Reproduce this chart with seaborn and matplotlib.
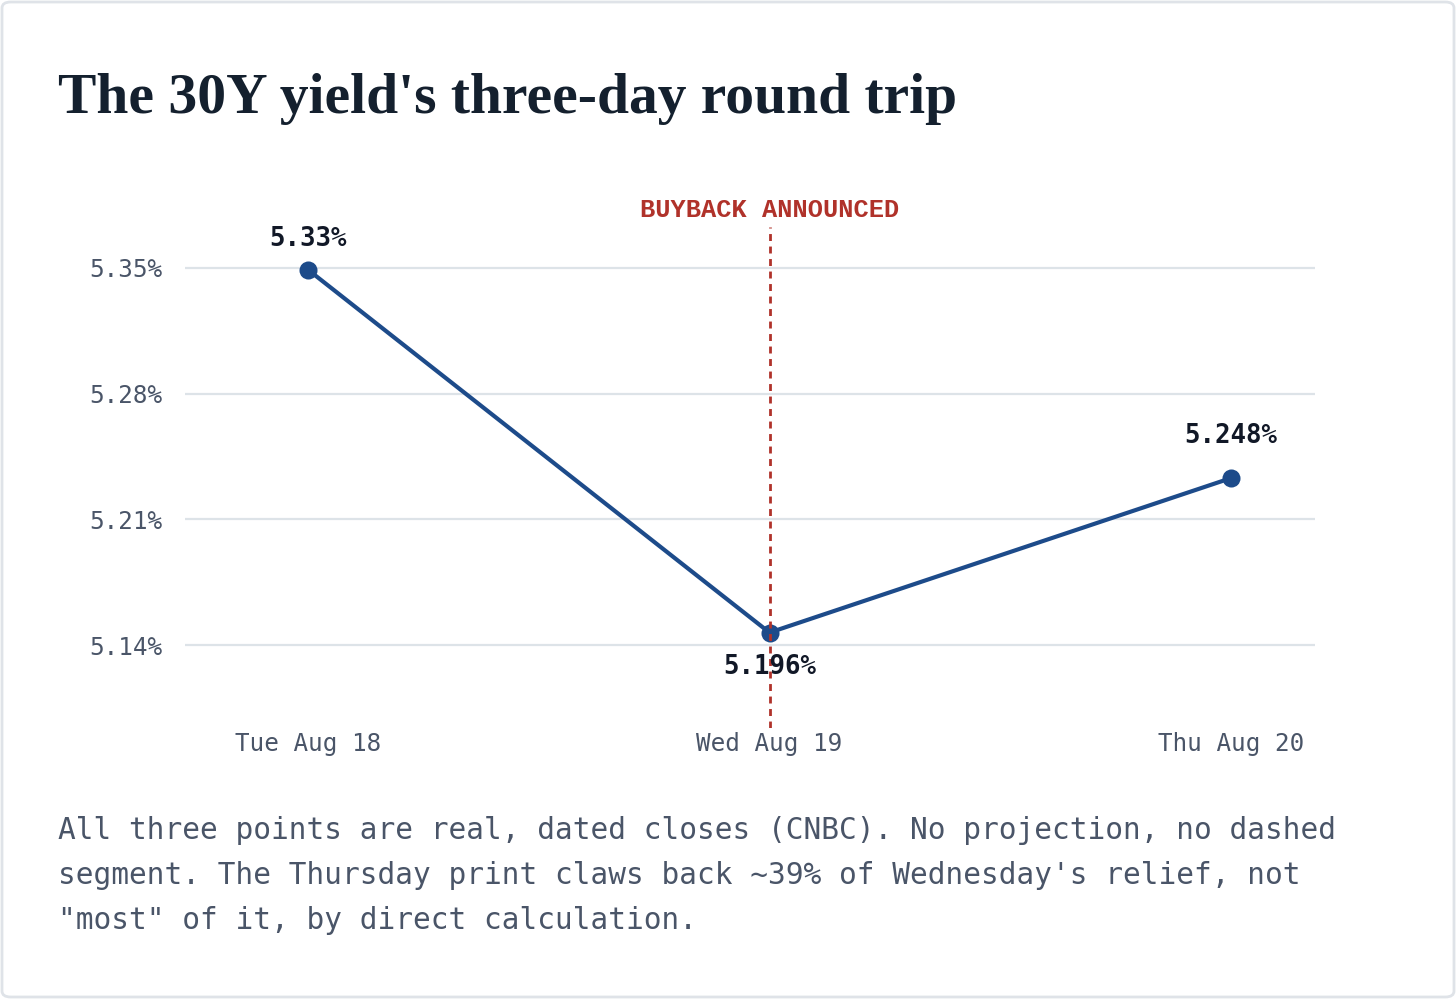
import matplotlib
matplotlib.use("Agg")
import matplotlib.pyplot as plt
import seaborn as sns
import pandas as pd
from matplotlib.patches import FancyBboxPatch

# ---- data ----
days = ["Tue Aug 18", "Wed Aug 19", "Thu Aug 20"]
yield_pos = [5.349, 5.147, 5.233]          # plotted positions
yield_labels = ["5.33%", "5.196%", "5.248%"]  # printed labels
yticks = [5.14, 5.21, 5.28, 5.35]
ytick_labels = ["5.14%", "5.21%", "5.28%", "5.35%"]
event_day = "Wed Aug 19"
event_label = "BUYBACK ANNOUNCED"
title = "The 30Y yield's three-day round trip"
caption = ("All three points are real, dated closes (CNBC). No projection, no dashed\n"
           "segment. The Thursday print claws back ~39% of Wednesday's relief, not\n"
           "\"most\" of it, by direct calculation.")

df = pd.DataFrame({"day": days, "x": range(len(days)), "y": yield_pos})

sns.set_theme(style="white")
W, H = 1456, 999
fig = plt.figure(figsize=(W / 100, H / 100), dpi=100)
fig.patch.set_facecolor("white")

# outer border
border = FancyBboxPatch((2 / W, 2 / H), 1 - 4 / W, 1 - 4 / H,
                        boxstyle="round,pad=0,rounding_size=0.006",
                        transform=fig.transFigure, fill=False,
                        edgecolor="#dfe3e8", linewidth=2)
fig.patches.append(border)

ax_l, ax_r = 185 / W, 1315 / W
ax_t, ax_b = 227 / H, 728 / H
ax = fig.add_axes([ax_l, 1 - ax_b, ax_r - ax_l, ax_b - ax_t])

x0px, x2px = 308, 1231
ppu = (x2px - x0px) / 2
ax.set_xlim(-(x0px - 185) / ppu, 2 + (1315 - x2px) / ppu)
ypp = 126 / 0.07
ax.set_ylim(5.14 - (728 - 645) / ypp, 5.35 + (268 - 227) / ypp)

for t in yticks:
    ax.axhline(t, color="#dde3e8", linewidth=1.6, zorder=0)

blue = "#1d4b8a"
sns.lineplot(data=df, x="x", y="y", ax=ax, color=blue, linewidth=3.0,
             marker="o", markersize=13, markeredgewidth=0, zorder=3)

ev_x = days.index(event_day)
ax.axvline(ev_x, color="#b0322a", linewidth=2.0, linestyle=(0, (2.5, 2.0)), zorder=4)

mono = ["DejaVu Sans Mono"]
ax.text(ev_x, 1.01, event_label, transform=ax.get_xaxis_transform(),
        ha="center", va="bottom", color="#b0322a", fontsize=18.3,
        fontweight="bold", family=["Liberation Mono", "DejaVu Sans Mono"])

offsets = [(0, 18, "bottom"), (0, -21, "top"), (0, 29, "bottom")]
for i, (lab, y) in enumerate(zip(yield_labels, yield_pos)):
    dx, dy, va = offsets[i]
    ax.annotate(lab, (i, y), xytext=(dx, dy), textcoords="offset pixels",
                ha="center", va=va, fontsize=18.5, fontweight="bold",
                color="#111827", family=mono, zorder=5)

ax.set_yticks(yticks)
ax.set_yticklabels(ytick_labels, family=mono, fontsize=17.5, color="#4a5568")
ax.set_xticks(range(len(days)))
ax.set_xticklabels(days, family=mono, fontsize=17.5, color="#4a5568")
ax.tick_params(axis="y", length=0, pad=16)
ax.tick_params(axis="x", length=0, pad=3)
ax.set_xlabel("")
ax.set_ylabel("")
for s in ax.spines.values():
    s.set_visible(False)
ax.set_facecolor("none")

fig.text(58 / W, 1 - 99 / H, title, ha="left", va="center",
         fontsize=41.4, fontweight="bold", color="#14202e",
         family=["Liberation Serif", "DejaVu Serif"])

fig.text(58 / W, 1 - 816 / H, caption, ha="left", va="top",
         fontsize=21.25, color="#4a5568", family=mono, linespacing=1.70)

fig.savefig("out.png", dpi=100, facecolor="white")
